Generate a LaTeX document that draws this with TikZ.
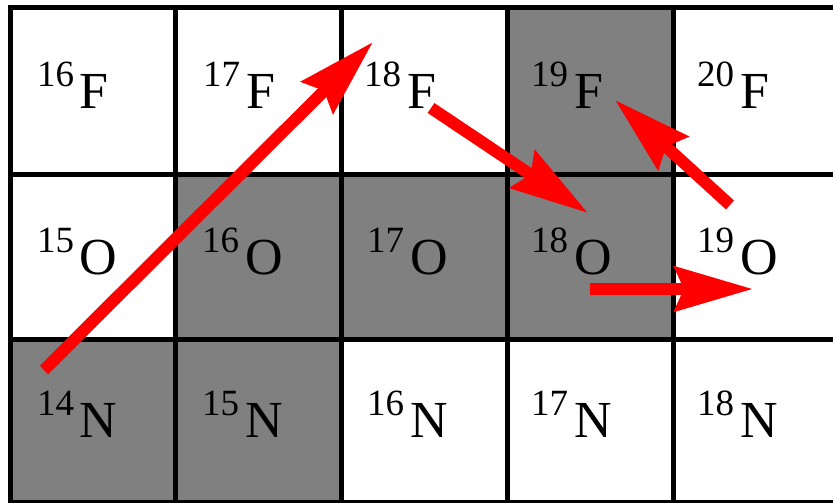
\documentclass[tikz,border=0pt]{standalone}
\usepackage{fontspec}
\setmainfont{Liberation Serif}
\usetikzlibrary{arrows.meta}
\newcommand{\iso}[2]{\raisebox{22pt}{\fontsize{37}{37}\selectfont #1}\hspace{6pt}{\fontsize{52}{52}\selectfont #2}}
\definecolor{cellgray}{HTML}{808080}
\tikzset{
  grid line/.style={line width=5pt, black},
  lbl/.style={anchor=base west, inner sep=0pt, outer sep=0pt},
  redarrow/.style={draw=red, line width=12pt, line cap=butt,
    -{Stealth[length=78pt,width=44pt,inset=9pt,fill=red]}}
}
\begin{document}
\begin{tikzpicture}[x=1pt,y=-1pt]
\useasboundingbox (0,0) rectangle (833,503);
\clip (0,0) rectangle (833,503);
% gray cells
\fill[cellgray] (507,8) rectangle (673,174);
\fill[cellgray] (175.5,174) rectangle (673,339);
\fill[cellgray] (10,339) rectangle (341,502);
% grid
\foreach \x in {10,175.5,341,507,673,839} \draw[grid line] (\x,5.5) -- (\x,504.5);
\foreach \y in {8,174,339,502} \draw[grid line] (7.5,\y) -- (841,\y);
% labels
\node[lbl] (F16) at (37,109) {\iso{16}{F}};
\node[lbl] (F17) at (203,109) {\iso{17}{F}};
\node[lbl] (F18) at (364,109) {\iso{18}{F}};
\node[lbl] (F19) at (531,109) {\iso{19}{F}};
\node[lbl] (F20) at (697,109) {\iso{20}{F}};
\node[lbl] (O15) at (37,274) {\iso{15}{O}};
\node[lbl] (O16) at (202,274) {\iso{16}{O}};
\node[lbl] (O17) at (367,274) {\iso{17}{O}};
\node[lbl] (O18) at (531,274) {\iso{18}{O}};
\node[lbl] (O19) at (697,274) {\iso{19}{O}};
\node[lbl] (N14) at (37,437) {\iso{14}{N}};
\node[lbl] (N15) at (202,437) {\iso{15}{N}};
\node[lbl] (N16) at (367,437) {\iso{16}{N}};
\node[lbl] (N17) at (531,437) {\iso{17}{N}};
\node[lbl] (N18) at (697,437) {\iso{18}{N}};
% arrow end points
\coordinate (a1s) at (44,370);
\coordinate (a1e) at (373,42);
\coordinate (a2s) at (431,108);
\coordinate (a2e) at (588,213);
\coordinate (a3s) at (730,205);
\coordinate (a3e) at (615,100);
\coordinate (a4s) at (590,289);
\coordinate (a4e) at (753,289);
\draw[redarrow] (a1s) -- (a1e);
\draw[redarrow] (a2s) -- (a2e);
\draw[redarrow] (a3s) -- (a3e);
\draw[redarrow] (a4s) -- (a4e);
\end{tikzpicture}
\end{document}
